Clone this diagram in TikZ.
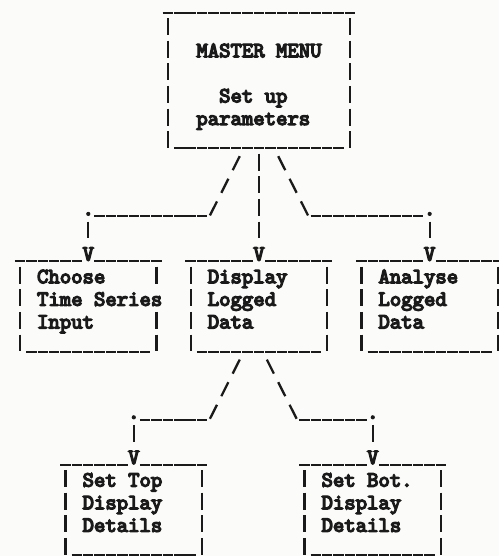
\documentclass[tikz,border=0pt]{standalone}
\usepackage{fontspec}
\usepackage{tikz}

\definecolor{ink}{RGB}{26,26,26}
\definecolor{paper}{RGB}{251,251,249}

% printer-style monospaced face: one character cell is 11.38pt wide
\newfontfamily\prface{lmmono10-regular.otf}[FakeBold=6]
\newcommand\prfont{\prface\fontsize{21.68pt}{22.6pt}\selectfont}

\tikzset{
  txt/.style={anchor=base west, inner sep=0pt, outer sep=0pt, font=\prfont, text=ink},
  uscore/.style={draw=ink, line width=2pt, dash pattern=on 10.4pt off 0.98pt},
  pipe/.style={draw=ink, line width=2.2pt, dash pattern=on 17pt off 5.6pt},
  diag/.style={draw=ink, line width=2.3pt, dash pattern=on 15.69pt off 9.61pt},
  dotmark/.style={fill=ink, draw=none},
}

% a run of underscores on row #1, columns #2..#3
\newcommand\prUnder[3]{\draw[uscore] (#2+0.043,#1+0.035) -- (#3+1,#1+0.035);}
% a column of bars in column #1, rows #2..#3
\newcommand\prPipe[3]{\draw[pipe] (#1+0.5,#2-0.73) -- (#1+0.5,#3+0.022);}

\begin{document}
\begin{tikzpicture}[x=11.38pt, y=-22.6pt]
  % page: columns are 1 unit wide, row k has its baseline at y = k
  \useasboundingbox (-0.2575,-0.531) rectangle (43.592,24.071);
  \fill[paper] (-0.2575,-0.531) rectangle (43.592,24.071);
  \clip (-0.2575,-0.531) rectangle (43.592,24.071);

  % ---------------- master menu box ----------------
  \prUnder{0}{14}{30}
  \prPipe{14}{1}{6}
  \prPipe{30}{1}{6}
  \prUnder{6}{15}{29}
  \node[txt] (master1) at (17,2) {MASTER MENU};
  \node[txt] (master2) at (19,4) {Set up};
  \node[txt] (master3) at (17,5) {parameters};

  % ---------------- second level boxes ----------------
  % Choose Time Series Input
  \prUnder{11}{1}{6}
  \prUnder{11}{8}{13}
  \prPipe{1}{12}{15}
  \prPipe{13}{12}{12}
  \prPipe{13}{14}{15}
  \prUnder{15}{2}{12}
  \node[txt] (choose1) at (3,12) {Choose};
  \node[txt] (choose2) at (3,13) {Time Series};
  \node[txt] (choose3) at (3,14) {Input};

  % Display Logged Data
  \prUnder{11}{16}{21}
  \prUnder{11}{23}{28}
  \prPipe{16}{12}{15}
  \prPipe{28}{12}{15}
  \prUnder{15}{17}{27}
  \node[txt] (display1) at (18,12) {Display};
  \node[txt] (display2) at (18,13) {Logged};
  \node[txt] (display3) at (18,14) {Data};

  % Analyse Logged Data
  \prUnder{11}{31}{36}
  \prUnder{11}{38}{43}
  \prPipe{31}{12}{15}
  \prPipe{43}{12}{15}
  \prUnder{15}{32}{42}
  \node[txt] (analyse1) at (33,12) {Analyse};
  \node[txt] (analyse2) at (33,13) {Logged};
  \node[txt] (analyse3) at (33,14) {Data};

  % ---------------- third level boxes ----------------
  % Set Top Display Details
  \prUnder{20}{5}{10}
  \prUnder{20}{12}{17}
  \prPipe{5}{21}{24}
  \prPipe{17}{21}{24}
  \prUnder{24}{6}{16}
  \node[txt] (settop1) at (7,21) {Set Top};
  \node[txt] (settop2) at (7,22) {Display};
  \node[txt] (settop3) at (7,23) {Details};

  % Set Bot. Display Details
  \prUnder{20}{26}{31}
  \prUnder{20}{33}{38}
  \prPipe{26}{21}{24}
  \prPipe{38}{21}{24}
  \prUnder{24}{27}{37}
  \node[txt] (setbot1) at (28,21) {Set Bot.};
  \node[txt] (setbot2) at (28,22) {Display};
  \node[txt] (setbot3) at (28,23) {Details};

  % ---------------- arrow heads ----------------
  \node[txt] (vA) at (7,11)  {V};
  \node[txt] (vB) at (22,11) {V};
  \node[txt] (vC) at (37,11) {V};
  \node[txt] (vD) at (11,20) {V};
  \node[txt] (vE) at (32,20) {V};

  % ---------------- connector points ----------------
  \coordinate (aTop)   at (20.81,6.38);
  \coordinate (aKnee)  at (18.19,9);
  \coordinate (aRun)   at (18,9.035);
  \coordinate (aRunEnd)at (8.043,9.035);
  \coordinate (aDot)   at (7.5,8.934);
  \coordinate (aDrop)  at (7.5,9.27);
  \coordinate (aFoot)  at (7.5,10.022);

  \coordinate (bTop)   at (22.5,6.27);
  \coordinate (bFoot)  at (22.5,10.022);

  \coordinate (cTop)   at (24.19,6.38);
  \coordinate (cKnee)  at (26.81,9);
  \coordinate (cRun)   at (27.043,9.035);
  \coordinate (cRunEnd)at (37,9.035);
  \coordinate (cDot)   at (37.5,8.934);
  \coordinate (cDrop)  at (37.5,9.27);
  \coordinate (cFoot)  at (37.5,10.022);

  \coordinate (dTop)   at (20.81,15.38);
  \coordinate (dKnee)  at (18.19,18);
  \coordinate (dRun)   at (18,18.035);
  \coordinate (dRunEnd)at (12.043,18.035);
  \coordinate (dDot)   at (11.5,17.934);
  \coordinate (dDrop)  at (11.5,18.27);
  \coordinate (dFoot)  at (11.5,19.022);

  \coordinate (eTop)   at (23.19,15.38);
  \coordinate (eKnee)  at (25.81,18);
  \coordinate (eRun)   at (26.043,18.035);
  \coordinate (eRunEnd)at (32,18.035);
  \coordinate (eDot)   at (32.5,17.934);
  \coordinate (eDrop)  at (32.5,18.27);
  \coordinate (eFoot)  at (32.5,19.022);

  % ---------------- connectors ----------------
  % master menu -> choose time series input
  \draw[diag] (aTop) -- (aKnee);
  \draw[uscore] (aRunEnd) -- (aRun);
  \fill[dotmark] (aDot) circle (2.1pt);
  \draw[pipe] (aDrop) -- (aFoot);

  % master menu -> display logged data
  \draw[pipe] (bTop) -- (bFoot);

  % master menu -> analyse logged data
  \draw[diag] (cTop) -- (cKnee);
  \draw[uscore] (cRun) -- (cRunEnd);
  \fill[dotmark] (cDot) circle (2.1pt);
  \draw[pipe] (cDrop) -- (cFoot);

  % display logged data -> set top display details
  \draw[diag] (dTop) -- (dKnee);
  \draw[uscore] (dRunEnd) -- (dRun);
  \fill[dotmark] (dDot) circle (2.1pt);
  \draw[pipe] (dDrop) -- (dFoot);

  % display logged data -> set bot. display details
  \draw[diag] (eTop) -- (eKnee);
  \draw[uscore] (eRun) -- (eRunEnd);
  \fill[dotmark] (eDot) circle (2.1pt);
  \draw[pipe] (eDrop) -- (eFoot);
\end{tikzpicture}
\end{document}
